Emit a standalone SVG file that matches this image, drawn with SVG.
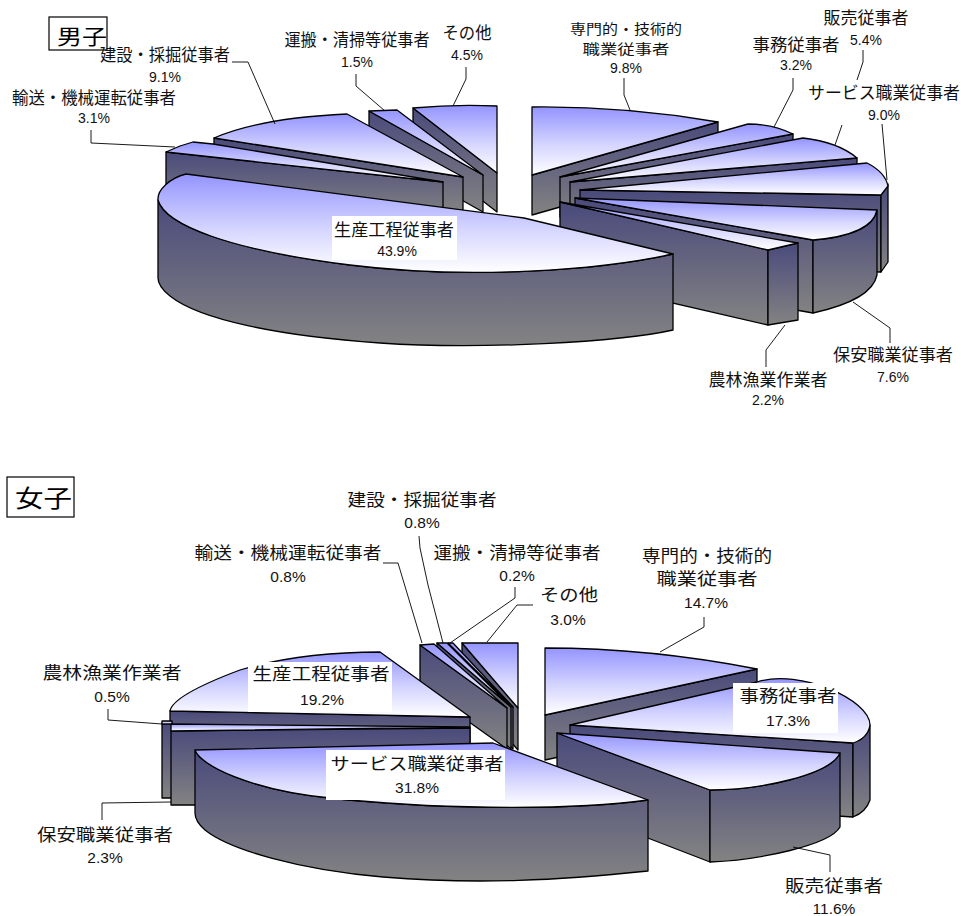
<svg xmlns="http://www.w3.org/2000/svg" width="961" height="916" viewBox="0 0 961 916">
<defs>
<linearGradient id="gTop" x1="0" y1="0" x2="0" y2="1"><stop offset="0" stop-color="#9494ff"/><stop offset="0.55" stop-color="#d4d4ff"/><stop offset="1" stop-color="#ffffff"/></linearGradient>
<linearGradient id="gSide" x1="0" y1="0" x2="0" y2="1"><stop offset="0" stop-color="#4a4a7c"/><stop offset="0.5" stop-color="#66667f"/><stop offset="1" stop-color="#838383"/></linearGradient>
<style>
.t{fill:url(#gTop);stroke:#000;stroke-width:1.3;stroke-linejoin:round}
.s{fill:url(#gSide);stroke:#000;stroke-width:1.3;stroke-linejoin:round}
.bg{fill:#fff}
.l{font-family:"Noto Sans CJK JP","Noto Sans CJK SC",sans-serif;font-size:16.5px;fill:#111;text-anchor:middle}
.ls{font-family:"Noto Sans CJK JP","Noto Sans CJK SC",sans-serif;font-size:13.6px;fill:#111;text-anchor:middle}
.n{font-family:"Liberation Sans",Arial,sans-serif;font-size:14px;fill:#111;text-anchor:middle}
.n2{font-family:"Liberation Sans",Arial,sans-serif;font-size:15.5px;fill:#111;text-anchor:middle}
.ld{fill:none;stroke:#000;stroke-width:0.9}
.box{fill:#fff;stroke:#000;stroke-width:1.2}
</style>
</defs>
<rect width="961" height="916" fill="#fff"/>

<!-- ===== 男子 chart ===== -->
<g id="m-title"><rect class="box" x="49" y="17" width="58" height="33"/><text x="57" y="44" font-family="Noto Sans CJK JP,sans-serif" font-size="21" textLength="50" lengthAdjust="spacingAndGlyphs">男子</text></g>

<g id="m-sonota"><path class="s" d="M413,108 L497,173 L497,212 L413,147 Z"/><path class="t" d="M413,108 Q455,104 497,106 L497,173 Z"/></g>
<g id="m-unpan"><path class="s" d="M369,111 L483,175 L483,212 L369,148 Z"/><path class="t" d="M369,111 L397,110 L483,175 Z"/></g>
<g id="m-kensetsu"><path class="s" d="M214,138 L463,177 L463,212 L214,173 Z"/><path class="t" d="M214,138 Q260,118 347,114 L463,177 Z"/></g>
<g id="m-yuso"><path class="s" d="M166,152 L443,182 L443,217 L166,187 Z"/><path class="t" d="M166,152 L180,146 L193,142 L213,144 L443,182 Z"/></g>
<g id="m-senmon"><path class="s" d="M532,175 L718,122 L718,162 L532,215 Z"/><path class="t" d="M532,107 Q625,106 718,122 L532,175 Z"/></g>
<g id="m-jimu"><path class="s" d="M560,177 L793,134 L793,174 L560,217 Z"/><path class="t" d="M560,177 L748,124 Q772,124 793,134 Z"/></g>
<g id="m-hanbai"><path class="s" d="M570,182 L857,158 L857,198 L570,222 Z"/><path class="t" d="M570,182 L803,138 Q838,142 857,158 Z"/></g>
<g id="m-service"><path class="s" d="M580,190 L881,195 L881,272 L580,267 Z"/><path class="s" d="M888,184 L881,195 L881,272 L888,262 Z"/><path class="t" d="M580,190 L867,163 Q885,172 888,186 L881,195 Z"/></g>
<g id="m-hoan"><path class="s" d="M575,198 L813,240 L813,313 L575,271 Z"/><path class="s" d="M877,210 Q872,235 813,240 L813,313 Q872,300 877,275 Z"/><path class="t" d="M575,198 L877,210 Q872,235 813,240 Z"/></g>
<g id="m-norin"><path class="s" d="M560,202 L768,250 L768,325 L560,277 Z"/><path class="s" d="M768,250 L798,243 L798,320 L768,325 Z"/><path class="t" d="M560,202 L798,243 L768,250 Z"/></g>
<g id="m-seisan"><path class="s" d="M158,200 C165,225 230,250 350,265 C470,280 600,270 673,254 L673,330 C620,342 480,350 380,343 C280,336 200,320 170,296 C160,288 158,282 158,278 Z"/><path class="t" d="M186,174 L524,218 L673,254 C600,270 470,280 350,265 C230,250 165,225 158,200 C157,190 170,178 186,174 Z"/><rect class="bg" x="332" y="216" width="125" height="44"/></g>

<!-- ===== 女子 chart ===== -->
<g id="f-title"><rect class="box" x="7" y="477" width="67" height="40"/><text x="15" y="507" font-family="Noto Sans CJK JP,sans-serif" font-size="24" textLength="57" lengthAdjust="spacingAndGlyphs">女子</text></g>

<g id="f-sonota"><path class="s" d="M462,643 L518,708 L518,750 L462,685 Z"/><path class="t" d="M462,643 L518,643 L518,708 Z"/></g>
<g id="f-unpan"><path class="s" d="M448,643 L513,707 L513,749 L448,685 Z"/><path class="t" d="M448,643 L453,643 L513,707 Z"/></g>
<g id="f-kensetsu"><path class="s" d="M437,643 L511,707 L511,749 L437,685 Z"/><path class="t" d="M437,643 L447,643 L511,707 Z"/></g>
<g id="f-yuso"><path class="s" d="M420,645 L507,708 L507,749 L420,687 Z"/><path class="t" d="M420,645 L434,644 L507,708 Z"/></g>
<g id="f-senmon"><path class="s" d="M545,715 L757,669 L757,714 L545,760 Z"/><path class="t" d="M545,648 Q650,648 757,669 L545,715 Z"/></g>
<g id="f-jimu"><path class="s" d="M570,725 L853,743 L853,817 L570,799 Z"/><path class="s" d="M870,725 Q868,738 853,743 L853,817 Q866,812 870,800 Z"/><path class="t" d="M570,725 L757,682 C800,668 870,700 870,725 Q868,738 853,743 Z"/><rect class="bg" x="733" y="683" width="105" height="50"/></g>
<g id="f-hanbai"><path class="s" d="M557,733 L710,790 L710,862 L557,803 Z"/><path class="s" d="M710,790 C760,790 830,775 840,753 L840,827 C830,845 760,860 710,862 Z"/><path class="t" d="M557,733 L840,753 C830,775 760,790 710,790 Z"/></g>
<g id="f-seisan"><path class="s" d="M170,711 L470,717 L470,755 L170,749 Z"/><path class="t" d="M170,711 C172,700 200,685 240,670 C290,655 340,652 380,652 L470,717 Z"/><rect class="bg" x="248" y="662" width="144" height="50"/></g>
<g id="f-norin"><path class="s" d="M162,723 L172,723 L172,798 L162,798 Z"/><path class="t" d="M162,721 L172,721 L172,724 L162,724 Z"/></g>
<g id="f-hoan"><path class="s" d="M171,731 L470,728 L470,805 L171,805 Z"/><path class="t" d="M171,724 L470,727 L171,731 Z"/></g>
<g id="f-service"><path class="s" d="M195,750 C200,765 250,790 330,798 C420,808 560,812 648,800 L648,871 C560,880 480,885 383,877 C300,870 230,850 205,830 C198,824 195,818 195,813 Z"/><path class="t" d="M195,750 L493,743 L648,800 C560,812 420,808 330,798 C250,790 200,765 195,750 Z"/><rect class="bg" x="326" y="750" width="179" height="50"/></g>

<!-- ===== connectors ===== -->
<g id="connectors">
<polyline class="ld" points="232,62 248,62 275,124"/>
<polyline class="ld" points="91,130 91,143 175,147"/>
<polyline class="ld" points="356,74 356,86 385,111"/>
<polyline class="ld" points="466,67 466,79 453,106"/>
<polyline class="ld" points="624,78 624,95 630,110"/>
<polyline class="ld" points="793,78 793,90 774,127"/>
<polyline class="ld" points="863,50 863,62 857,80"/>
<polyline class="ld" points="842,125 835,145"/>
<polyline class="ld" points="882,124 887,180"/>
<polyline class="ld" points="853,302 890,328 890,343"/>
<polyline class="ld" points="785,325 766,350 766,367"/>
<polyline class="ld" points="419,536 420,548 428,585 443,643"/>
<polyline class="ld" points="383,563 398,563 422,643"/>
<polyline class="ld" points="515,587 515,598 450,643"/>
<polyline class="ld" points="533,605 517,605 487,642"/>
<polyline class="ld" points="704,617 704,627 660,652"/>
<polyline class="ld" points="793,847 830,855 830,872"/>
<polyline class="ld" points="108,709 108,720 162,724"/>
<polyline class="ld" points="102,820 102,803 171,802"/>
</g>

<!-- ===== labels ===== -->
<g id="m-labels">
<text class="l" x="165" y="61" textLength="130" lengthAdjust="spacingAndGlyphs">建設・採掘従事者</text><text class="n" x="165" y="82">9.1%</text>
<text class="l" x="94" y="104" textLength="164" lengthAdjust="spacingAndGlyphs">輸送・機械運転従事者</text><text class="n" x="94" y="123">3.1%</text>
<text class="l" x="357" y="46" textLength="145" lengthAdjust="spacingAndGlyphs">運搬・清掃等従事者</text><text class="n" x="357" y="67">1.5%</text>
<text class="l" x="467" y="39" textLength="49" lengthAdjust="spacingAndGlyphs">その他</text><text class="n" x="467" y="60">4.5%</text>
<text class="ls" x="626" y="34" textLength="112" lengthAdjust="spacingAndGlyphs">専門的・技術的</text><text class="ls" x="626" y="54" textLength="87" lengthAdjust="spacingAndGlyphs">職業従事者</text><text class="n" x="626" y="73">9.8%</text>
<text class="l" x="796" y="51" textLength="87" lengthAdjust="spacingAndGlyphs">事務従事者</text><text class="n" x="796" y="70">3.2%</text>
<text class="l" x="866" y="24" textLength="85" lengthAdjust="spacingAndGlyphs">販売従事者</text><text class="n" x="866" y="45">5.4%</text>
<text class="l" x="884" y="99" textLength="152" lengthAdjust="spacingAndGlyphs">サービス職業従事者</text><text class="n" x="884" y="120">9.0%</text>
<text class="l" x="893" y="361" textLength="120" lengthAdjust="spacingAndGlyphs">保安職業従事者</text><text class="n" x="893" y="382">7.6%</text>
<text class="l" x="768" y="386" textLength="119" lengthAdjust="spacingAndGlyphs">農林漁業作業者</text><text class="n" x="768" y="405">2.2%</text>
<text class="l" x="394" y="236" textLength="120" lengthAdjust="spacingAndGlyphs">生産工程従事者</text><text class="n" x="397" y="256">43.9%</text>
</g>
<g id="f-labels">
<text class="l" x="422" y="506" textLength="149" lengthAdjust="spacingAndGlyphs">建設・採掘従事者</text><text class="n2" x="422" y="528">0.8%</text>
<text class="l" x="288" y="559" textLength="187" lengthAdjust="spacingAndGlyphs">輸送・機械運転従事者</text><text class="n2" x="288" y="582">0.8%</text>
<text class="l" x="517" y="559" textLength="167" lengthAdjust="spacingAndGlyphs">運搬・清掃等従事者</text><text class="n2" x="517" y="581">0.2%</text>
<text class="l" x="569" y="601" textLength="58" lengthAdjust="spacingAndGlyphs">その他</text><text class="n2" x="568" y="625">3.0%</text>
<text class="l" x="707" y="562" textLength="130" lengthAdjust="spacingAndGlyphs">専門的・技術的</text><text class="l" x="707" y="585" textLength="101" lengthAdjust="spacingAndGlyphs">職業従事者</text><text class="n2" x="706" y="608">14.7%</text>
<text class="l" x="788" y="702" textLength="97" lengthAdjust="spacingAndGlyphs">事務従事者</text><text class="n2" x="788" y="726">17.3%</text>
<text class="l" x="834" y="892" textLength="98" lengthAdjust="spacingAndGlyphs">販売従事者</text><text class="n2" x="834" y="914">11.6%</text>
<text class="l" x="112" y="679" textLength="139" lengthAdjust="spacingAndGlyphs">農林漁業作業者</text><text class="n2" x="112" y="702">0.5%</text>
<text class="l" x="105" y="841" textLength="136" lengthAdjust="spacingAndGlyphs">保安職業従事者</text><text class="n2" x="105" y="863">2.3%</text>
<text class="l" x="321" y="680" textLength="137" lengthAdjust="spacingAndGlyphs">生産工程従事者</text><text class="n2" x="322" y="705">19.2%</text>
<text class="l" x="417" y="770" textLength="173" lengthAdjust="spacingAndGlyphs">サービス職業従事者</text><text class="n2" x="417" y="793">31.8%</text>
</g>
</svg>
